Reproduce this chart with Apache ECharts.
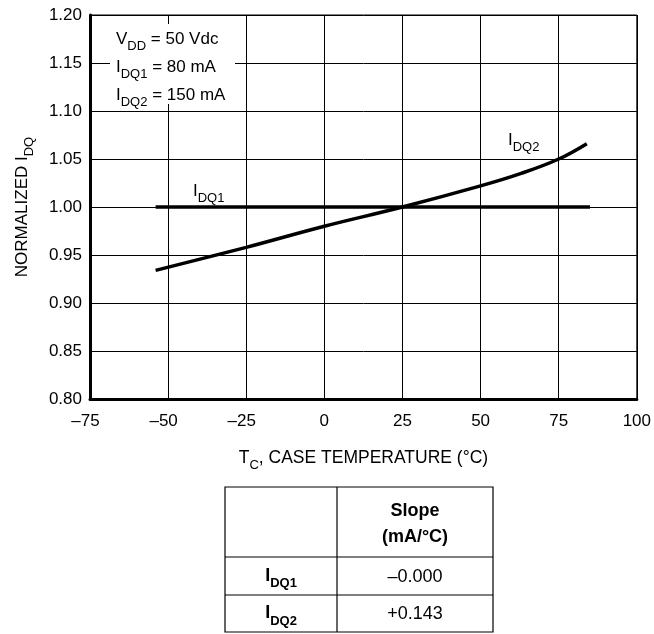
<!DOCTYPE html>
<html><head><meta charset="utf-8">
<script src="https://cdn.jsdelivr.net/npm/echarts@6/dist/echarts.min.js"></script>
<style>html,body{margin:0;padding:0;background:#fff}#c{width:654px;height:634px}</style>
</head><body><div id="c"></div>
<script>
// ---- data ----
const idq1Temp = [-54, 85];
const idq1Val = [1.000, 1.000];
const idq2Temp = [-54, -25, 0, 25, 50, 63, 75, 84];
const idq2Val = [0.934, 0.958, 0.980, 1.000, 1.022, 1.035, 1.050, 1.066];
const xTickMin = -75, xTickMax = 100, xTickStep = 25;
const yTickMin = 0.80, yTickMax = 1.20, yTickStep = 0.05;
const conditionLines = [['V', 'DD', ' = 50 Vdc'], ['I', 'DQ1', ' = 80 mA'], ['I', 'DQ2', ' = 150 mA']];
const tableRowNames = [['I', 'DQ1'], ['I', 'DQ2']];
const tableHeader = ['Slope', '(mA/°C)'];
const slopeValues = ['\u20130.000', '+0.143'];

const FONT = '"Liberation Sans", Arial, sans-serif';
const chart = echarts.init(document.getElementById('c'), null, {renderer: 'canvas'});

const subRich = {
  m: {fontSize: 17, fontFamily: FONT, color: '#000', lineHeight: 20},
  s: {fontSize: 13, fontFamily: FONT, color: '#000', verticalAlign: 'bottom', lineHeight: 27}
};
function subText(parts) {
  let t = '{m|' + parts[0] + '}{s|' + parts[1] + '}';
  if (parts[2]) t += '{m|' + parts[2] + '}';
  return t;
}

// table graphics
const tX = [225, 337, 493];
const tY = [487, 557, 595, 632];
const tableGraphics = [];
tableGraphics.push({type: 'rect', shape: {x: tX[0], y: tY[0], width: tX[2] - tX[0], height: tY[3] - tY[0]},
  style: {fill: '#fff', stroke: '#000', lineWidth: 1.2}, z: 10});
tableGraphics.push({type: 'line', shape: {x1: tX[1], y1: tY[0], x2: tX[1], y2: tY[3]}, style: {stroke: '#000', lineWidth: 1.2}, z: 11});
tableGraphics.push({type: 'line', shape: {x1: tX[0], y1: tY[1], x2: tX[2], y2: tY[1]}, style: {stroke: '#000', lineWidth: 1.2}, z: 11});
tableGraphics.push({type: 'line', shape: {x1: tX[0], y1: tY[2], x2: tX[2], y2: tY[2]}, style: {stroke: '#000', lineWidth: 1.2}, z: 11});
tableGraphics.push({type: 'text', x: (tX[1] + tX[2]) / 2, y: (tY[0] + tY[1]) / 2 + 2, z: 12,
  style: {text: tableHeader.join('\n'), align: 'center', verticalAlign: 'middle', font: 'bold 18px ' + FONT, lineHeight: 26, fill: '#000'}});
const tRich = {
  m: {fontSize: 18, fontWeight: 'bold', fontFamily: FONT, color: '#000', lineHeight: 22},
  s: {fontSize: 13, fontWeight: 'bold', fontFamily: FONT, color: '#000', verticalAlign: 'bottom', lineHeight: 28}
};
for (let i = 0; i < tableRowNames.length; i++) {
  const cy = (tY[i + 1] + tY[i + 2]) / 2;
  tableGraphics.push({type: 'text', x: (tX[0] + tX[1]) / 2, y: cy, z: 12,
    style: {text: '{m|' + tableRowNames[i][0] + '}{s|' + tableRowNames[i][1] + '}', rich: tRich, align: 'center', verticalAlign: 'middle'}});
  tableGraphics.push({type: 'text', x: (tX[1] + tX[2]) / 2, y: cy + 1, z: 12,
    style: {text: slopeValues[i], align: 'center', verticalAlign: 'middle', font: '18px ' + FONT, fill: '#000'}});
}

const option = {
  animation: false,
  backgroundColor: '#fff',
  grid: {left: 90, right: 16, top: 15, bottom: 235, show: true, borderColor: '#000', borderWidth: 1, backgroundColor: 'transparent'},
  xAxis: {
    type: 'value', min: xTickMin, max: xTickMax, interval: xTickStep,
    name: '{m|T}{s|C}{m|, CASE TEMPERATURE (°C)}', nameLocation: 'middle', nameGap: 46,
    nameTextStyle: {rich: {m: {fontSize: 17.5, fontFamily: FONT, color: '#000', lineHeight: 20}, s: {fontSize: 13, fontFamily: FONT, color: '#000', verticalAlign: 'bottom', lineHeight: 27}}},
    axisLine: {show: true, onZero: false, lineStyle: {color: '#000', width: 3}},
    axisTick: {show: false},
    splitLine: {show: true, lineStyle: {color: '#000', width: 1}},
    axisLabel: {margin: 14, color: '#000',
      formatter: v => v < 0 ? '{n|\u2013' + Math.abs(v) + '}{p| }' : '{n|' + v + '}',
      rich: {n: {fontSize: 17, fontFamily: FONT, color: '#000'}, p: {fontSize: 17, width: 9}}}
  },
  yAxis: {
    type: 'value', min: yTickMin, max: yTickMax, interval: yTickStep,
    name: '{m|NORMALIZED I}{s|DQ}', nameLocation: 'middle', nameGap: 54, nameRotate: 90,
    nameTextStyle: {rich: subRich},
    axisLine: {show: true, onZero: false, lineStyle: {color: '#000', width: 3}},
    axisTick: {show: false},
    splitLine: {show: true, lineStyle: {color: '#000', width: 1}},
    axisLabel: {margin: 8, color: '#000', fontSize: 17, fontFamily: FONT, formatter: v => v.toFixed(2)}
  },
  series: [
    {type: 'line', name: 'IDQ1', data: idq1Temp.map((t, i) => [t, idq1Val[i]]), showSymbol: false,
      lineStyle: {color: '#000', width: 3.5}, z: 5},
    {type: 'line', name: 'IDQ2', data: idq2Temp.map((t, i) => [t, idq2Val[i]]), showSymbol: false, smooth: 0.4,
      lineStyle: {color: '#000', width: 3.5}, z: 5}
  ],
  graphic: [
    {type: 'rect', shape: {x: 110, y: 24, width: 125, height: 80}, style: {fill: '#fff'}, z: 8},
    {type: 'text', x: 116, y: 25, z: 9, style: {text: conditionLines.map(subText).join('\n'), rich: {
      m: {fontSize: 17, fontFamily: FONT, color: '#000', lineHeight: 24},
      s: {fontSize: 13, fontFamily: FONT, color: '#000', verticalAlign: 'bottom', lineHeight: 28}}}},
    {type: 'text', x: 193, y: 178, z: 9, style: {text: subText(['I', 'DQ1']), rich: subRich}},
    {type: 'text', x: 508, y: 127, z: 9, style: {text: subText(['I', 'DQ2']), rich: subRich}}
  ].concat(tableGraphics)
};
chart.setOption(option);
</script></body></html>
